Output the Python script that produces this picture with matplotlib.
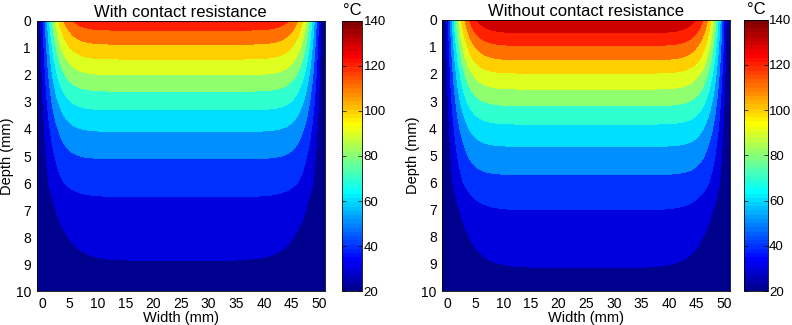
import numpy as np
import matplotlib
matplotlib.use('Agg')
import matplotlib.pyplot as plt
from matplotlib.colors import ListedColormap, Normalize
from matplotlib.cm import ScalarMappable

plt.rcParams['font.family'] = ['Liberation Sans', 'DejaVu Sans']
plt.rcParams['font.size'] = 10

# isotherm levels in deg C
levels = [20, 30, 40, 50, 60, 70, 80, 90, 100, 110, 120, 130, 140]

# temperature along the centre line (x = 25 mm)
with_depth = [0, 0.34, 0.86, 1.41, 1.99, 2.60, 3.29, 4.09, 5.10, 6.50, 8.87, 10]
with_temp = [127, 120, 110, 100, 90, 80, 70, 60, 50, 40, 30, 25.5]
without_depth = [0, 0.48, 0.95, 1.48, 1.97, 2.56, 3.17, 3.85, 4.67, 5.71, 7.01, 9.14, 10]
without_temp = [139.5, 130, 120, 110, 100, 90, 80, 70, 60, 50, 40, 30, 26.5]

# side walls, and how far the cooling reaches in from them at each depth
wall_temp = 20
wall_x = [-1, 51]
edge_depth = [0, 6, 8, 10]
edge_scale = [1.5, 1.5, 2.2, 2.5]


def matlab_jet(m=64):
    n = int(np.ceil(m / 4))
    u = np.r_[np.arange(1, n + 1) / n, np.ones(n - 1), np.arange(n, 0, -1) / n]
    g = int(np.ceil(n / 2)) - int(m % 4 == 1) + np.arange(1, len(u) + 1)
    rgb = np.zeros((m, 3))
    for ch, idx in ((0, g + n), (1, g), (2, g - n)):
        keep = (idx >= 1) & (idx <= m)
        rgb[idx[keep] - 1, ch] = u[keep]
    return ListedColormap(rgb)


def temperature_field(depth, temp):
    x = np.linspace(wall_x[0], wall_x[1], 621)
    y = np.linspace(0, 10, 401)
    X, Y = np.meshgrid(x, y)
    d = np.minimum(X - wall_x[0], wall_x[1] - X)
    z = d / np.interp(Y, edge_depth, edge_scale)
    g = 1 - (1 + z) * np.exp(-z)
    Tc = np.interp(Y, depth, temp)
    T = wall_temp + (Tc - wall_temp) * g
    return X, Y, np.clip(T, levels[0], levels[-1])


cmap = matlab_jet()
norm = Normalize(levels[0], levels[-1])
band_colors = [cmap(norm(v)) for v in levels[:-1]]


def draw_panel(fig, ax_rect, cb_rect, depth, temp, title):
    ax = fig.add_axes(ax_rect)
    X, Y, T = temperature_field(depth, temp)
    ax.contourf(X, Y, T, levels=levels, colors=band_colors, antialiased=False)
    ax.set_xlim(wall_x[0], wall_x[1])
    ax.set_ylim(10, 0)
    ax.set_xticks(range(0, 51, 5))
    ax.set_yticks(range(0, 11))
    ax.tick_params(length=0, pad=4)
    ax.set_xlabel('Width (mm)', labelpad=0, fontsize=10.5)
    ax.set_ylabel('Depth (mm)', labelpad=1, fontsize=10.5)
    ax.set_title(title, pad=3)
    for sp in ax.spines.values():
        sp.set_linewidth(0.6)

    cax = fig.add_axes(cb_rect)
    sm = ScalarMappable(norm=norm, cmap=cmap)
    cb = fig.colorbar(sm, cax=cax, ticks=[20, 40, 60, 80, 100, 120, 140])
    cb.outline.set_linewidth(0.6)
    cax.tick_params(direction='in', length=3, width=0.5, left=True, right=True,
                    pad=1, labelsize=9.5)
    cax.set_title('°C', pad=4)


fig = plt.figure(figsize=(7.92, 3.25), dpi=100)
draw_panel(fig, [0.0461, 0.1046, 0.3643, 0.8308], [0.4314, 0.1046, 0.026, 0.8308],
           with_depth, with_temp, 'With contact resistance')
draw_panel(fig, [0.5585, 0.1046, 0.3633, 0.8348], [0.9398, 0.1046, 0.0295, 0.8348],
           without_depth, without_temp, 'Without contact resistance')
fig.savefig('out.png', dpi=100)
plt.close(fig)
